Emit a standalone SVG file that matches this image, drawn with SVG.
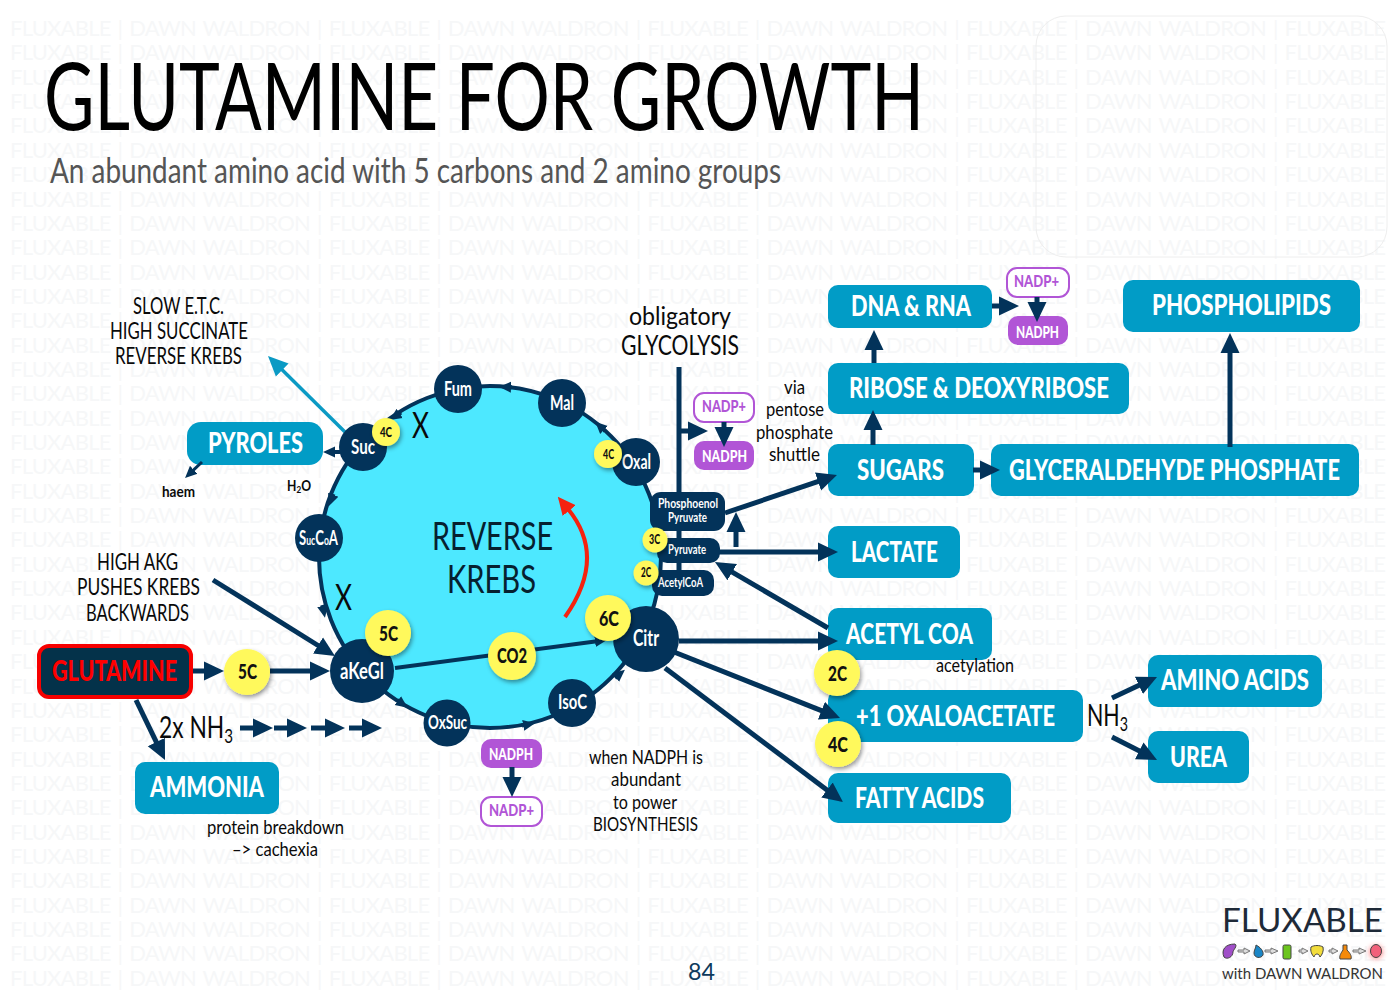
<svg xmlns="http://www.w3.org/2000/svg" xmlns:xlink="http://www.w3.org/1999/xlink" width="1398" height="1006" viewBox="0 0 1398 1006">
<style>
text{font-family:Lato,"Noto Sans",sans-serif;}
.wm{font-size:22px;fill:#f6f7f8;word-spacing:2px;}
.box{fill:#019cc6;}
.bl{fill:#fff;font-weight:900;font-size:28px;}
.k{fill:#0a0a0a;font-size:23px;}
.k2{fill:#0a0a0a;font-size:20px;}
.nav{fill:#03335a;}
.n{fill:#fff;font-size:20px;font-weight:700;}
.ph{fill:#fff;font-size:13px;font-weight:700;}
.y{fill:#fff95c;filter:url(#sh);}
.yt{fill:#111;font-weight:900;font-size:21px;}
.ys{fill:#111;font-weight:900;font-size:13px;}
.pf{fill:#b155d6;}
.po{fill:#fff;stroke:#b155d6;stroke-width:2;}
.pt{font-weight:900;font-size:16px;}
.c{fill:none;stroke:#03335a;stroke-width:5;marker-end:url(#ah);}
.s{fill:none;stroke:#03335a;stroke-width:4;marker-end:url(#as);}
.ic{stroke:#444;stroke-width:1;}
.ga{fill:#ddd;stroke:#777;stroke-width:1;}
</style>
<defs>
<marker id="ah" markerUnits="userSpaceOnUse" markerWidth="20" markerHeight="20" refX="2" refY="10" orient="auto"><path d="M0,.5 L20,10 L0,19.5 z" fill="#03335a"/></marker>
<marker id="as" markerUnits="userSpaceOnUse" markerWidth="12" markerHeight="12" refX="2" refY="6" orient="auto"><path d="M0,.5 L12,6 L0,11.5 z" fill="#03335a"/></marker>
<marker id="at" markerUnits="userSpaceOnUse" markerWidth="20" markerHeight="20" refX="2" refY="10" orient="auto"><path d="M0,1 L20,10 L0,19 z" fill="#0b9ac4"/></marker>
<marker id="ar" markerUnits="userSpaceOnUse" markerWidth="18" markerHeight="18" refX="2" refY="9" orient="auto"><path d="M0,.5 L18,9 L0,17.5 z" fill="#f5220f"/></marker>
<filter id="sh" x="-30%" y="-30%" width="170%" height="170%"><feDropShadow dx="1.5" dy="2.5" stdDeviation="2" flood-color="#000" flood-opacity=".4"/></filter>
<filter id="gl" x="-80%" y="-80%" width="260%" height="260%"><feGaussianBlur stdDeviation="2.5"/></filter>
<text id="wmr" class="wm" x="10" y="0" textLength="1376" lengthAdjust="spacing">FLUXABLE | DAWN WALDRON | FLUXABLE | DAWN WALDRON | FLUXABLE | DAWN WALDRON | FLUXABLE | DAWN WALDRON | FLUXABLE</text>
</defs>
<rect width="1398" height="1006" fill="#fff"/>
<g id="watermark">
<use href="#wmr" y="36"/><use href="#wmr" y="60.4"/><use href="#wmr" y="84.7"/><use href="#wmr" y="109"/><use href="#wmr" y="133.4"/><use href="#wmr" y="157.8"/><use href="#wmr" y="182.1"/><use href="#wmr" y="206.5"/><use href="#wmr" y="230.8"/><use href="#wmr" y="255.2"/><use href="#wmr" y="279.5"/><use href="#wmr" y="303.9"/><use href="#wmr" y="328.2"/><use href="#wmr" y="352.6"/><use href="#wmr" y="376.9"/><use href="#wmr" y="401.3"/><use href="#wmr" y="425.6"/><use href="#wmr" y="450"/><use href="#wmr" y="474.3"/><use href="#wmr" y="498.7"/><use href="#wmr" y="523"/><use href="#wmr" y="547.4"/><use href="#wmr" y="571.7"/><use href="#wmr" y="596.1"/><use href="#wmr" y="620.4"/><use href="#wmr" y="644.8"/><use href="#wmr" y="669.1"/><use href="#wmr" y="693.5"/><use href="#wmr" y="717.8"/><use href="#wmr" y="742.2"/><use href="#wmr" y="766.5"/><use href="#wmr" y="790.9"/><use href="#wmr" y="815.2"/><use href="#wmr" y="839.6"/><use href="#wmr" y="863.9"/><use href="#wmr" y="888.3"/><use href="#wmr" y="912.6"/><use href="#wmr" y="937"/><use href="#wmr" y="961.3"/><use href="#wmr" y="985.7"/>
</g>
<rect x="1036" y="16" width="351" height="241" rx="30" fill="none" stroke="#eeeeee" stroke-width="1"/>
<text x="44" y="130" font-size="94" fill="#000" textLength="880" lengthAdjust="spacingAndGlyphs">GLUTAMINE FOR GROWTH</text>
<text x="50" y="183" font-size="35" fill="#555" textLength="731" lengthAdjust="spacingAndGlyphs">An abundant amino acid with 5 carbons and 2 amino groups</text>

<circle id="krebs-cycle" cx="490" cy="557" r="171" fill="#4de8ff" stroke="#03335a" stroke-width="4"/>
<g id="reverse-krebs-label">
<text x="432" y="550" font-size="39" fill="#06202f" textLength="121" lengthAdjust="spacingAndGlyphs">REVERSE</text>
<text x="447" y="593" font-size="39" fill="#06202f" textLength="89" lengthAdjust="spacingAndGlyphs">KREBS</text>
</g>

<g id="node-dna-rna"><rect class="box" x="828" y="285" width="164" height="43" rx="10"/><text class="bl" x="851" y="316" textLength="120" lengthAdjust="spacingAndGlyphs">DNA &amp; RNA</text></g>
<g id="node-ribose"><rect class="box" x="828" y="363" width="301" height="51" rx="10"/><text class="bl" x="849" y="398" textLength="260" lengthAdjust="spacingAndGlyphs">RIBOSE &amp; DEOXYRIBOSE</text></g>
<g id="node-sugars"><rect class="box" x="828" y="444" width="146" height="52" rx="10"/><text class="bl" x="857" y="480" textLength="87" lengthAdjust="spacingAndGlyphs">SUGARS</text></g>
<g id="node-glyceraldehyde"><rect class="box" x="991" y="444" width="368" height="52" rx="10"/><text class="bl" x="1009" y="480" textLength="331" lengthAdjust="spacingAndGlyphs">GLYCERALDEHYDE PHOSPHATE</text></g>
<g id="node-phospholipids"><rect class="box" x="1123" y="280" width="237" height="52" rx="10"/><text class="bl" x="1152" y="315" textLength="179" lengthAdjust="spacingAndGlyphs">PHOSPHOLIPIDS</text></g>
<g id="node-lactate"><rect class="box" x="828" y="526" width="132" height="52" rx="10"/><text class="bl" x="851" y="562" textLength="87" lengthAdjust="spacingAndGlyphs">LACTATE</text></g>
<g id="node-acetyl-coa"><rect class="box" x="828" y="608" width="164" height="52" rx="10"/><text class="bl" x="846" y="644" textLength="127" lengthAdjust="spacingAndGlyphs">ACETYL COA</text></g>
<g id="node-oxaloacetate"><rect class="box" x="828" y="690" width="255" height="52" rx="10"/><text class="bl" x="856" y="726" textLength="199" lengthAdjust="spacingAndGlyphs">+1 OXALOACETATE</text></g>
<g id="node-fatty-acids"><rect class="box" x="828" y="773" width="183" height="50" rx="10"/><text class="bl" x="855" y="808" textLength="129" lengthAdjust="spacingAndGlyphs">FATTY ACIDS</text></g>
<g id="node-amino-acids"><rect class="box" x="1148" y="655" width="174" height="52" rx="10"/><text class="bl" x="1161" y="690" textLength="148" lengthAdjust="spacingAndGlyphs">AMINO ACIDS</text></g>
<g id="node-urea"><rect class="box" x="1148" y="731" width="101" height="52" rx="10"/><text class="bl" x="1170" y="767" textLength="57" lengthAdjust="spacingAndGlyphs">UREA</text></g>
<g id="node-pyroles"><rect class="box" x="187" y="422" width="136" height="43" rx="14"/><text class="bl" x="208" y="453" textLength="95" lengthAdjust="spacingAndGlyphs">PYROLES</text></g>
<g id="node-ammonia"><rect class="box" x="135" y="762" width="144" height="52" rx="10"/><text class="bl" x="150" y="797" textLength="114" lengthAdjust="spacingAndGlyphs">AMMONIA</text></g>
<g id="node-nadp-a"><rect class="po" x="694" y="393" width="60" height="29" rx="10"/><text class="pt" fill="#b155d6" x="702" y="412" textLength="44" lengthAdjust="spacingAndGlyphs">NADP+</text></g>
<g id="node-nadph-a"><rect class="pf" x="694" y="441" width="60" height="29" rx="10"/><text class="pt" fill="#fff" x="702" y="462" textLength="45" lengthAdjust="spacingAndGlyphs">NADPH</text></g>
<g id="node-nadp-b"><rect class="po" x="1007" y="268" width="62" height="29" rx="10"/><text class="pt" fill="#b155d6" x="1014" y="287" textLength="45" lengthAdjust="spacingAndGlyphs">NADP+</text></g>
<g id="node-nadph-b"><rect class="pf" x="1008" y="316" width="60" height="29" rx="10"/><text class="pt" fill="#fff" x="1016" y="338" textLength="43" lengthAdjust="spacingAndGlyphs">NADPH</text></g>
<g id="node-nadph-c"><rect class="pf" x="481" y="739" width="61" height="29" rx="10"/><text class="pt" fill="#fff" x="489" y="760" textLength="44" lengthAdjust="spacingAndGlyphs">NADPH</text></g>
<g id="node-nadp-c"><rect class="po" x="481" y="797" width="61" height="29" rx="10"/><text class="pt" fill="#b155d6" x="489" y="816" textLength="45" lengthAdjust="spacingAndGlyphs">NADP+</text></g>

<g id="connectors">
<path d="M679,367 V585" fill="none" stroke="#03335a" stroke-width="5"/>
<path class="c" d="M679,431 H690"/>
<path class="c" d="M724,422 V429"/>
<path class="c" d="M725,513 L819.9,480.8"/>
<path class="c" d="M736,547 V530"/>
<path class="c" d="M718,552 H820"/>
<path class="c" d="M828,628 L730.5,571.1"/>
<path class="c" d="M679,641 H820"/>
<path class="c" d="M674,652 L823.3,711.4"/>
<path class="c" d="M665,668 L828.6,791.2"/>
<path class="c" d="M992,306 H1001"/>
<path class="c" d="M1037,297 V304"/>
<path class="c" d="M874,363 V348"/>
<path class="c" d="M873,445 V428"/>
<path class="c" d="M973,470 H982"/>
<path class="c" d="M1230,447 V351"/>
<path class="c" d="M190,671 H206"/>
<path class="c" d="M270,671 H312"/>
<path class="c" d="M136,700 L157.2,743.8"/>
<path class="c" d="M240,728 H255"/>
<path class="c" d="M274,728 H289"/>
<path class="c" d="M311,728 H327"/>
<path class="c" d="M349,728 H364"/>
<path class="c" d="M213,580 L319.7,646.5"/>
<path class="c" d="M512,767 V779"/>
<path class="c" d="M1112,698 L1140.7,684.6"/>
<path class="c" d="M1112,737 L1141,751.8"/>
<path d="M345,432 L280.8,368.6" fill="none" stroke="#0b9ac4" stroke-width="3.5" marker-end="url(#at)"/>
<path class="s" d="M512,387.3 L509,387.2"/>
<path class="s" d="M401,412.5 L398,414.5"/>
<path class="s" d="M605,431 L602.5,428.6"/>
<path class="s" d="M333.5,494 L332.5,496.6"/>
<path class="s" d="M322.4,605 L323,608"/>
<path class="s" d="M397,700 L399.5,701.8"/>
<path class="s" d="M522,725.6 L525.2,725"/>
<path class="s" d="M615,678 L617.2,676.2"/>
<path class="s" d="M395,668 L597,641.3"/>
<path class="s" d="M340,452 H333"/>
<path class="s" style="stroke-width:3" d="M202,462 L192.3,471.2"/>
<path d="M565,617 Q607.5,557 568,509" fill="none" stroke="#f5220f" stroke-width="4" marker-end="url(#ar)"/>
</g>

<g id="node-glutamine"><rect x="39" y="646" width="152" height="51" rx="10" fill="#04324a" stroke="#f70000" stroke-width="4"/><text class="bl" style="fill:#ff0000" x="52" y="681" textLength="125" lengthAdjust="spacingAndGlyphs">GLUTAMINE</text></g>
<g id="node-fum"><circle class="nav" cx="458" cy="389" r="24"/><text class="n" x="444" y="396" textLength="28" lengthAdjust="spacingAndGlyphs">Fum</text></g>
<g id="node-mal"><circle class="nav" cx="562" cy="403" r="24"/><text class="n" x="550" y="410" textLength="24" lengthAdjust="spacingAndGlyphs">Mal</text></g>
<g id="node-oxal"><circle class="nav" cx="636" cy="462" r="24"/><text class="n" x="622" y="469" textLength="29" lengthAdjust="spacingAndGlyphs">Oxal</text></g>
<g id="node-suc"><circle class="nav" cx="363" cy="447" r="24"/><text class="n" x="351" y="454" textLength="24" lengthAdjust="spacingAndGlyphs">Suc</text></g>
<g id="node-succoa"><circle class="nav" cx="319" cy="538" r="24"/><text class="n" x="299" y="545" textLength="39" lengthAdjust="spacingAndGlyphs">S<tspan font-size="13">uc</tspan>C<tspan font-size="13">o</tspan>A</text></g>
<g id="node-akegl"><circle class="nav" cx="362" cy="671" r="32"/><text class="n" style="font-size:23px" x="340" y="679" textLength="44" lengthAdjust="spacingAndGlyphs">aKeGl</text></g>
<g id="node-oxsuc"><circle class="nav" cx="447" cy="723" r="23.5"/><text class="n" style="font-size:19px" x="428" y="729" textLength="39" lengthAdjust="spacingAndGlyphs">OxSuc</text></g>
<g id="node-isoc"><circle class="nav" cx="572" cy="703" r="24"/><text class="n" x="558" y="709" textLength="29" lengthAdjust="spacingAndGlyphs">IsoC</text></g>
<g id="node-citr"><circle class="nav" cx="646" cy="639" r="33"/><text class="n" style="font-size:23px" x="633" y="646" textLength="26" lengthAdjust="spacingAndGlyphs">Citr</text></g>
<g id="node-pep"><rect class="nav" x="650" y="492" width="75" height="39" rx="11"/><text class="ph" x="658" y="508" textLength="60" lengthAdjust="spacingAndGlyphs">Phosphoenol</text><text class="ph" x="668" y="522" textLength="39" lengthAdjust="spacingAndGlyphs">Pyruvate</text></g>
<g id="node-pyruvate"><rect class="nav" x="657" y="538" width="63" height="25" rx="10"/><text class="ph" x="668" y="554" textLength="38" lengthAdjust="spacingAndGlyphs">Pyruvate</text></g>
<g id="node-acetylcoa"><rect class="nav" x="652" y="570" width="62" height="26" rx="10"/><text class="ph" x="658" y="587" textLength="45" lengthAdjust="spacingAndGlyphs">AcetylCoA</text></g>

<g id="carbon-5c-a"><circle class="y" cx="247" cy="672" r="23"/><text class="yt" x="238" y="679" textLength="19" lengthAdjust="spacingAndGlyphs">5C</text></g>
<g id="carbon-5c-b"><circle class="y" cx="388" cy="633" r="23"/><text class="yt" x="379" y="641" textLength="19" lengthAdjust="spacingAndGlyphs">5C</text></g>
<g id="carbon-co2"><circle class="y" cx="512" cy="656" r="24"/><text class="yt" x="497" y="663" textLength="30" lengthAdjust="spacingAndGlyphs">CO2</text></g>
<g id="carbon-6c"><circle class="y" cx="608" cy="618" r="23"/><text class="yt" x="599" y="626" textLength="20" lengthAdjust="spacingAndGlyphs">6C</text></g>
<g id="carbon-2c-a"><circle class="y" cx="837" cy="673" r="23"/><text class="yt" x="828" y="681" textLength="19" lengthAdjust="spacingAndGlyphs">2C</text></g>
<g id="carbon-4c-a"><circle class="y" cx="838" cy="744" r="23"/><text class="yt" x="828" y="752" textLength="20" lengthAdjust="spacingAndGlyphs">4C</text></g>
<g id="carbon-4c-b"><circle class="y" cx="386" cy="432" r="14"/><text class="ys" x="380" y="437" textLength="12" lengthAdjust="spacingAndGlyphs">4C</text></g>
<g id="carbon-4c-c"><circle class="y" cx="608" cy="454" r="14"/><text class="ys" x="603" y="459" textLength="11" lengthAdjust="spacingAndGlyphs">4C</text></g>
<g id="carbon-3c"><circle class="y" cx="655" cy="540" r="12.5"/><text class="ys" x="649" y="544" textLength="11" lengthAdjust="spacingAndGlyphs">3C</text></g>
<g id="carbon-2c-b"><circle class="y" cx="646" cy="573" r="12.5"/><text class="ys" x="641" y="577" textLength="10" lengthAdjust="spacingAndGlyphs">2C</text></g>

<g id="labels">
<text class="k" x="133" y="314" textLength="91" lengthAdjust="spacingAndGlyphs">SLOW E.T.C.</text>
<text class="k" x="110" y="339" textLength="138" lengthAdjust="spacingAndGlyphs">HIGH SUCCINATE</text>
<text class="k" x="115" y="364" textLength="127" lengthAdjust="spacingAndGlyphs">REVERSE KREBS</text>
<text class="k" x="97" y="570" textLength="81" lengthAdjust="spacingAndGlyphs">HIGH AKG</text>
<text class="k" x="77" y="595" textLength="123" lengthAdjust="spacingAndGlyphs">PUSHES KREBS</text>
<text class="k" x="86" y="621" textLength="103" lengthAdjust="spacingAndGlyphs">BACKWARDS</text>
<text class="k" style="font-size:25px" x="629" y="325" textLength="102" lengthAdjust="spacingAndGlyphs">obligatory</text>
<text class="k" style="font-size:26px" x="621" y="355" textLength="118" lengthAdjust="spacingAndGlyphs">GLYCOLYSIS</text>
<text class="k2" x="784" y="394" textLength="21" lengthAdjust="spacingAndGlyphs">via</text>
<text class="k2" x="766" y="416" textLength="58" lengthAdjust="spacingAndGlyphs">pentose</text>
<text class="k2" x="756" y="439" textLength="77" lengthAdjust="spacingAndGlyphs">phosphate</text>
<text class="k2" x="769" y="461" textLength="51" lengthAdjust="spacingAndGlyphs">shuttle</text>
<text class="k2" x="589" y="764" textLength="114" lengthAdjust="spacingAndGlyphs">when NADPH is</text>
<text class="k2" x="611" y="786" textLength="70" lengthAdjust="spacingAndGlyphs">abundant</text>
<text class="k2" x="613" y="809" textLength="64" lengthAdjust="spacingAndGlyphs">to power</text>
<text class="k2" x="593" y="831" textLength="105" lengthAdjust="spacingAndGlyphs">BIOSYNTHESIS</text>
<text class="k2" x="207" y="834" textLength="137" lengthAdjust="spacingAndGlyphs">protein breakdown</text>
<text class="k2" x="232" y="856" textLength="86" lengthAdjust="spacingAndGlyphs">–&gt; cachexia</text>
<text class="k2" x="936" y="672" textLength="78" lengthAdjust="spacingAndGlyphs">acetylation</text>
<text class="k" style="font-size:30px" x="1087" y="726" textLength="41" lengthAdjust="spacingAndGlyphs">NH<tspan font-size="20" dy="5">3</tspan></text>
<text class="k" style="font-size:30px" x="159" y="738" textLength="74" lengthAdjust="spacingAndGlyphs">2x NH<tspan font-size="20" dy="5">3</tspan></text>
<text class="k" style="font-size:15px;font-weight:700" x="287" y="491" textLength="24" lengthAdjust="spacingAndGlyphs">H<tspan font-size="10" dy="2">2</tspan><tspan dy="-2">O</tspan></text>
<text class="k" style="font-size:16px;font-weight:700" x="162" y="497" textLength="33" lengthAdjust="spacingAndGlyphs">haem</text>
<text class="k" style="font-size:36px" x="412" y="438" textLength="17" lengthAdjust="spacingAndGlyphs">X</text>
<text class="k" style="font-size:36px" x="335" y="610" textLength="17" lengthAdjust="spacingAndGlyphs">X</text>
<text x="688" y="980" font-size="23" fill="#0e3a5c" textLength="27" lengthAdjust="spacingAndGlyphs">84</text>
</g>

<g id="logo">
<text x="1222" y="932" font-size="32" fill="#1e2a38" textLength="161" lengthAdjust="spacingAndGlyphs">FLUXABLE</text>
<path class="ic" fill="#a04fc8" d="M1224,957 C1221,950 1225,944 1235,944 C1238,946 1233,950 1233,952 C1233,957 1227,960 1224,957z"/>
<path class="ga" d="M1238,950 h6 v-2 l6,3 l-6,3 v-2 h-6z"/>
<path class="ic" fill="#1b86c6" d="M1256,945 C1260,947 1264,951 1263,955 C1261,959 1254,958 1254,953 C1254,950 1256,948 1256,945z"/>
<path class="ga" d="M1265,950 h6 v-2 l7,3 l-7,3 v-2 h-6z"/>
<rect class="ic" fill="#6cc51e" x="1283" y="945" width="8" height="14" rx="1.5"/>
<path class="ga" d="M1299,950 h3 v-2 l6,3 l-6,3 v-2 h-3z"/>
<path class="ic" fill="#f2dd3c" d="M1311,947 C1314,945 1320,945 1323,947 C1324,951 1322,955 1320,957 C1319,953 1315,953 1314,957 C1312,955 1310,951 1311,947z"/>
<path class="ga" d="M1329,950 h3 v-2 l6,3 l-6,3 v-2 h-3z"/>
<path class="ic" fill="#f58a0a" d="M1343,945 h4 v5 C1350,953 1352,956 1351,959 h-11 C1339,956 1341,953 1343,950z"/>
<path class="ga" d="M1353,950 h6 v-2 l7,3 l-7,3 v-2 h-6z"/>
<circle cx="1376" cy="952" r="7" fill="#f55" opacity=".6" filter="url(#gl)"/>
<ellipse class="ic" fill="#f2607a" cx="1376" cy="951" rx="5.5" ry="6.5"/>
<text x="1222" y="979" font-size="16" fill="#333" textLength="161" lengthAdjust="spacingAndGlyphs">with DAWN WALDRON</text>
</g>
</svg>
